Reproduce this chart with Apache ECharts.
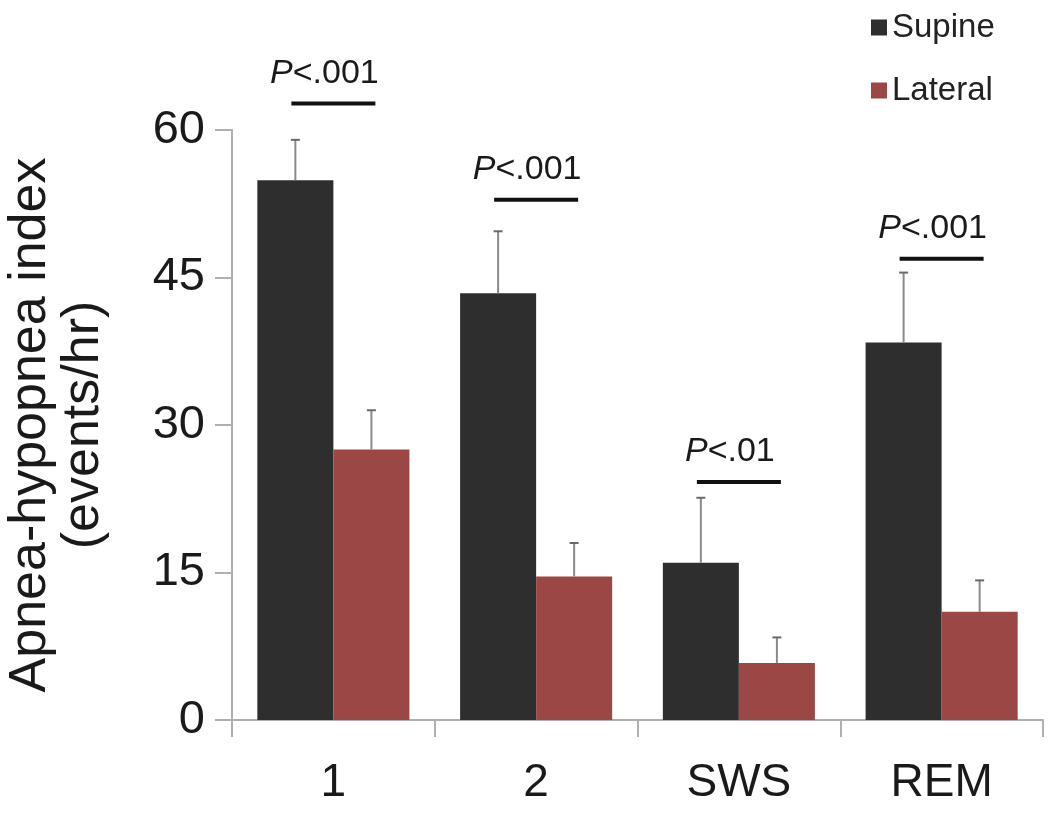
<!DOCTYPE html>
<html>
<head>
<meta charset="utf-8">
<script src="https://cdn.jsdelivr.net/npm/echarts@6/dist/echarts.min.js"></script>
<style>html,body{margin:0;padding:0;background:#fff;}#c{width:1050px;height:813px;}</style>
</head>
<body>
<div id="c"></div>
<script>
const categories = ['1', '2', 'SWS', 'REM'];
const supine = [54.9, 43.4, 16.0, 38.4];
const lateral = [27.5, 14.6, 5.8, 11.0];
const supineErr = [4.1, 6.3, 6.6, 7.1];
const lateralErr = [4.0, 3.4, 2.6, 3.2];
const pLabels = ['.001', '.001', '.01', '.001'];
const pLineY = [62.7, 52.9, 24.2, 46.9];
const yTicks = [0, 15, 30, 45, 60];

const FONT = 'Liberation Sans, Arial, sans-serif';
const chart = echarts.init(document.getElementById('c'), null, {renderer: 'canvas'});

function errSeries(name, means, errs, sign) {
  return {
    type: 'custom',
    name: name + ' err',
    z: 5,
    clip: false,
    data: means.map((m, i) => [i, m, m + errs[i]]),
    renderItem: function (params, api) {
      const bw = api.size([1, 0])[0];
      const off = sign * bw * 0.1875;
      const p0 = api.coord([api.value(0), api.value(1)]);
      const p1 = api.coord([api.value(0), api.value(2)]);
      const x = p0[0] + off;
      return {
        type: 'group',
        children: [
          {type: 'line', shape: {x1: x, y1: p0[1], x2: x, y2: p1[1]}, style: {stroke: '#8a8a8a', lineWidth: 2}},
          {type: 'line', shape: {x1: x - 4.5, y1: p1[1], x2: x + 4.5, y2: p1[1]}, style: {stroke: '#6a6a6a', lineWidth: 2}}
        ]
      };
    }
  };
}

chart.setOption({
  animation: false,
  backgroundColor: '#fff',
  grid: {left: 232, right: 7, top: 130, bottom: 93, containLabel: false, outerBoundsMode: 'none'},
  legend: {
    data: ['Supine', 'Lateral'],
    orient: 'vertical',
    left: 866,
    top: 6,
    itemWidth: 16,
    itemHeight: 16,
    itemGap: 30,
    icon: 'rect',
    textStyle: {fontFamily: FONT, fontSize: 33, color: '#222'}
  },
  xAxis: {
    type: 'category',
    data: categories,
    axisLine: {lineStyle: {color: '#b0b0b0', width: 2}},
    axisTick: {show: true, alignWithLabel: false, length: 17, lineStyle: {color: '#b0b0b0', width: 2}},
    axisLabel: {fontFamily: FONT, fontSize: 46, color: '#1a1a1a', margin: 40}
  },
  yAxis: {
    type: 'value',
    min: 0,
    max: 60,
    interval: 15,
    name: 'Apnea-hypopnea index\n(events/hr)',
    nameLocation: 'middle',
    nameGap: 122,
    nameTextStyle: {fontFamily: FONT, fontSize: 52, color: '#1a1a1a', lineHeight: 53, align: 'center'},
    axisLine: {show: true, lineStyle: {color: '#b0b0b0', width: 2}},
    axisTick: {show: true, length: 17, lineStyle: {color: '#b0b0b0', width: 2}},
    splitLine: {show: false},
    axisLabel: {fontFamily: FONT, fontSize: 47, color: '#1a1a1a', margin: 27,
      formatter: v => yTicks.includes(v) ? String(v) : ''}
  },
  series: [
    {name: 'Supine', type: 'bar', data: supine, barGap: '0%', barCategoryGap: '25%',
      itemStyle: {color: '#2e2e2e'}},
    {name: 'Lateral', type: 'bar', data: lateral, barGap: '0%', barCategoryGap: '25%',
      itemStyle: {color: '#9b4745'}},
    errSeries('Supine', supine, supineErr, -1),
    errSeries('Lateral', lateral, lateralErr, 1),
    {
      type: 'custom',
      name: 'sig',
      z: 6,
      clip: false,
      data: pLineY.map((y, i) => [i, y]),
      renderItem: function (params, api) {
        const i = params.dataIndex;
        const p = api.coord([api.value(0), api.value(1)]);
        const half = 42;
        return {
          type: 'group',
          children: [
            {type: 'line', shape: {x1: p[0] - half, y1: p[1], x2: p[0] + half, y2: p[1]},
              style: {stroke: '#111', lineWidth: 4}},
            {type: 'text', x: p[0] - 9, y: p[1] - 13,
              style: {
                text: '{i|P}{n|<' + pLabels[i] + '}',
                align: 'center', verticalAlign: 'bottom',
                rich: {
                  i: {fontFamily: FONT, fontSize: 34, fontStyle: 'italic', fill: '#1a1a1a'},
                  n: {fontFamily: FONT, fontSize: 34, fill: '#1a1a1a'}
                }
              }}
          ]
        };
      }
    }
  ]
});
</script>
</body>
</html>
